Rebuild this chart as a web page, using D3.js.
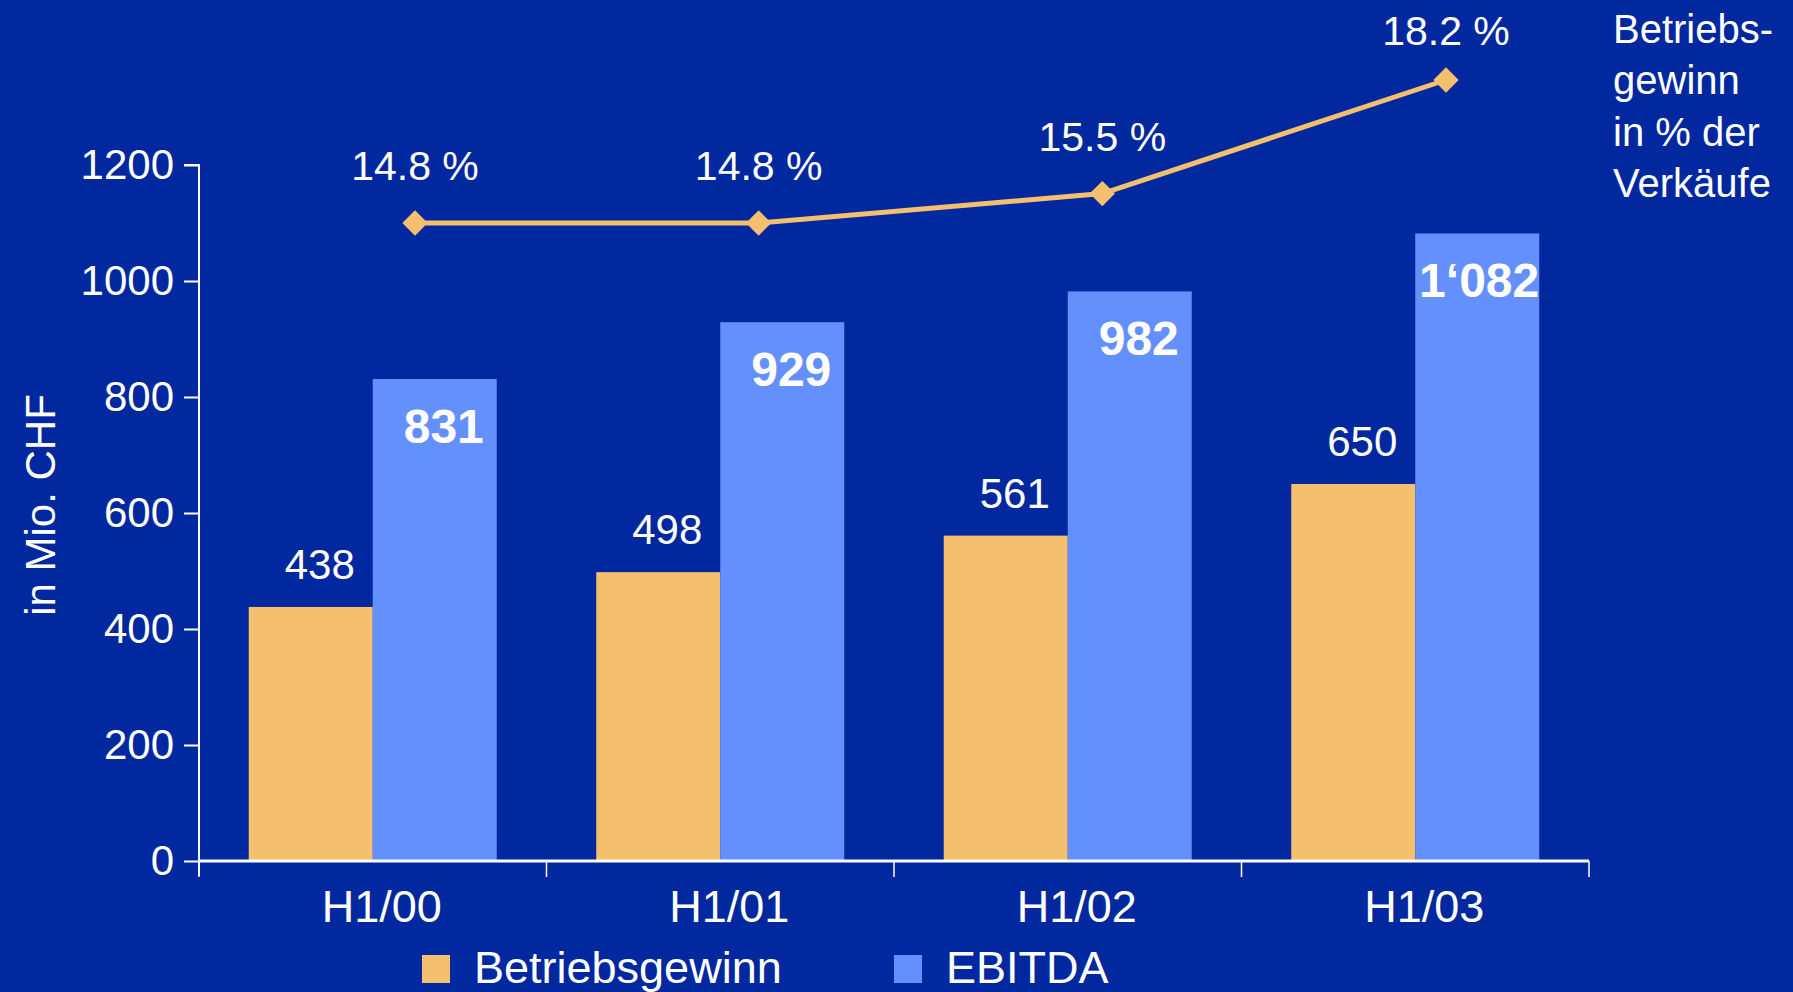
<!DOCTYPE html>
<html>
<head>
<meta charset="utf-8">
<script src="https://cdn.jsdelivr.net/npm/d3@7"></script>
<style>
  html, body { margin: 0; padding: 0; background: #0228A0; overflow: hidden; }
  svg { display: block; font-family: "Liberation Sans", Arial, sans-serif; }
</style>
</head>
<body>
<div id="chart"></div>
<script>
/* data */
var periods = ["H1/00", "H1/01", "H1/02", "H1/03"];
var betriebsgewinn = [438, 498, 561, 650];
var ebitda = [831, 929, 982, 1082];
var ebitdaLabels = ["831", "929", "982", "1\u2018082"];
var marge = [14.8, 14.8, 15.5, 18.2];
var margeLabels = ["14.8 %", "14.8 %", "15.5 %", "18.2 %"];
var yTicks = [0, 200, 400, 600, 800, 1000, 1200];
var seriesNames = ["Betriebsgewinn", "EBITDA"];
var noteLines = ["Betriebs-", "gewinn", "in % der", "Verkäufe"];

var W = 1793, H = 992;
var bg = "#0228A0", orange = "#F5C06E", blue = "#6490FD";

var svg = d3.select("#chart").append("svg")
    .attr("width", W)
    .attr("height", H);

svg.append("rect").attr("width", W).attr("height", H).attr("fill", bg);

// scales
var x = d3.scaleBand().domain(periods).range([199, 1589])
    .paddingInner(0.2863).paddingOuter(0.14315);
var xAxisScale = d3.scaleBand().domain(periods).range([199, 1589]);
var xSub = d3.scaleBand().domain(seriesNames).range([0, x.bandwidth()]);
var y = d3.scaleLinear().domain([0, 1200]).range([861, 165]);
var xLine = d3.scalePoint().domain(periods).range([415, 1446]);
var y2 = d3.scaleLinear().domain([14.8, 18.2]).range([223, 80]);

// bars
var groups = svg.selectAll("g.grp")
    .data(periods)
    .enter().append("g")
    .attr("class", "grp")
    .attr("transform", function(d) { return "translate(" + x(d) + ",0)"; });

groups.append("rect")
    .attr("x", xSub("Betriebsgewinn"))
    .attr("y", function(d, i) { return y(betriebsgewinn[i]); })
    .attr("width", xSub.bandwidth())
    .attr("height", function(d, i) { return y(0) - y(betriebsgewinn[i]); })
    .attr("fill", orange);

groups.append("rect")
    .attr("x", xSub("EBITDA"))
    .attr("y", function(d, i) { return y(ebitda[i]); })
    .attr("width", xSub.bandwidth())
    .attr("height", function(d, i) { return y(0) - y(ebitda[i]); })
    .attr("fill", blue);

// orange value labels above bars
groups.append("text")
    .attr("x", xSub("Betriebsgewinn") + xSub.bandwidth() / 2 + 9)
    .attr("y", function(d, i) { return y(betriebsgewinn[i]) - 28; })
    .attr("text-anchor", "middle")
    .attr("fill", "#fff")
    .style("font-size", "42px")
    .text(function(d, i) { return betriebsgewinn[i]; });

// blue value labels inside bars, bold
groups.append("text")
    .attr("y", function(d, i) { return y(ebitda[i]) + 64; })
    .attr("text-anchor", "middle")
    .attr("fill", "#fff")
    .style("font-size", "48px")
    .style("font-weight", "bold")
    .text(function(d, i) { return ebitdaLabels[i]; })
    .attr("x", function() {
        var bw = xSub.bandwidth();
        var tw = this.getComputedTextLength();
        var dx = Math.min(9, (bw - tw) / 2);
        return xSub("EBITDA") + bw / 2 + dx;
    });

// axes
var yAxis = d3.axisLeft(y).tickValues(yTicks).tickFormat(d3.format("d"))
    .tickSize(15).tickPadding(10);
var gy = svg.append("g").attr("transform", "translate(199,0)").call(yAxis);
gy.select(".domain").attr("d", "M-15,165H0V876");
gy.selectAll("line, path").attr("stroke", "#fff").attr("stroke-width", 2);
gy.selectAll("text").attr("fill", "#fff").style("font-size", "42px")
    .style("font-family", "'Liberation Sans', Arial, sans-serif");

var xAxis = d3.axisBottom(xAxisScale).tickSize(0).tickPadding(0);
var gx = svg.append("g").attr("transform", "translate(0,861)").call(xAxis);
gx.select(".domain").attr("stroke", "#fff").attr("stroke-width", 3).attr("d", "M199,0H1589");
gx.selectAll("text").remove();
// boundary ticks between categories
var bounds = periods.map(function(p) { return xAxisScale(p); }).concat([xAxisScale.range()[1]]);
gx.selectAll("line.bnd").data(bounds).enter().append("line")
    .attr("class", "bnd")
    .attr("x1", function(d) { return d; }).attr("x2", function(d) { return d; })
    .attr("y1", 0).attr("y2", 16)
    .attr("stroke", "#fff").attr("stroke-width", 1.5);
gx.selectAll("text.cat").data(periods).enter().append("text")
    .attr("class", "cat")
    .attr("x", function(d) { return xAxisScale(d) + xAxisScale.bandwidth() / 2 + 9; })
    .attr("y", 61)
    .attr("text-anchor", "middle")
    .attr("fill", "#fff")
    .style("font-size", "45px")
    .text(function(d) { return d; });

// y axis title
svg.append("text")
    .attr("transform", "translate(55,505) rotate(-90)")
    .attr("text-anchor", "middle")
    .attr("fill", "#fff")
    .style("font-size", "42px")
    .text("in Mio. CHF");

// margin line
var line = d3.line()
    .x(function(d, i) { return xLine(periods[i]); })
    .y(function(d) { return y2(d); });

svg.append("path")
    .datum(marge)
    .attr("d", line)
    .attr("fill", "none")
    .attr("stroke", orange)
    .attr("stroke-width", 5);

svg.selectAll("path.dia").data(marge).enter().append("path")
    .attr("class", "dia")
    .attr("d", d3.symbol().type(d3.symbolSquare).size(320))
    .attr("transform", function(d, i) {
        return "translate(" + xLine(periods[i]) + "," + y2(d) + ") rotate(45)";
    })
    .attr("fill", orange);

svg.selectAll("text.pct").data(marge).enter().append("text")
    .attr("class", "pct")
    .attr("x", function(d, i) { return xLine(periods[i]); })
    .attr("y", function(d) { return Math.max(y2(d) - 43, 45); })
    .attr("text-anchor", "middle")
    .attr("fill", "#fff")
    .style("font-size", "41px")
    .text(function(d, i) { return margeLabels[i]; });

// note at right
svg.append("g").selectAll("text").data(noteLines).enter().append("text")
    .attr("x", 1613)
    .attr("y", function(d, i) { return 43 + i * 51.3; })
    .attr("fill", "#fff")
    .style("font-size", "40px")
    .text(function(d) { return d; });

// legend
var legend = svg.append("g").attr("transform", "translate(0,955)");
var legX = [422, 894];
seriesNames.forEach(function(name, i) {
    legend.append("rect")
        .attr("x", legX[i]).attr("y", 0)
        .attr("width", 28).attr("height", 28)
        .attr("fill", i == 0 ? orange : blue);
    legend.append("text")
        .attr("x", legX[i] + 52).attr("y", 28)
        .attr("fill", "#fff")
        .style("font-size", "45px")
        .text(name);
});
</script>
</body>
</html>
